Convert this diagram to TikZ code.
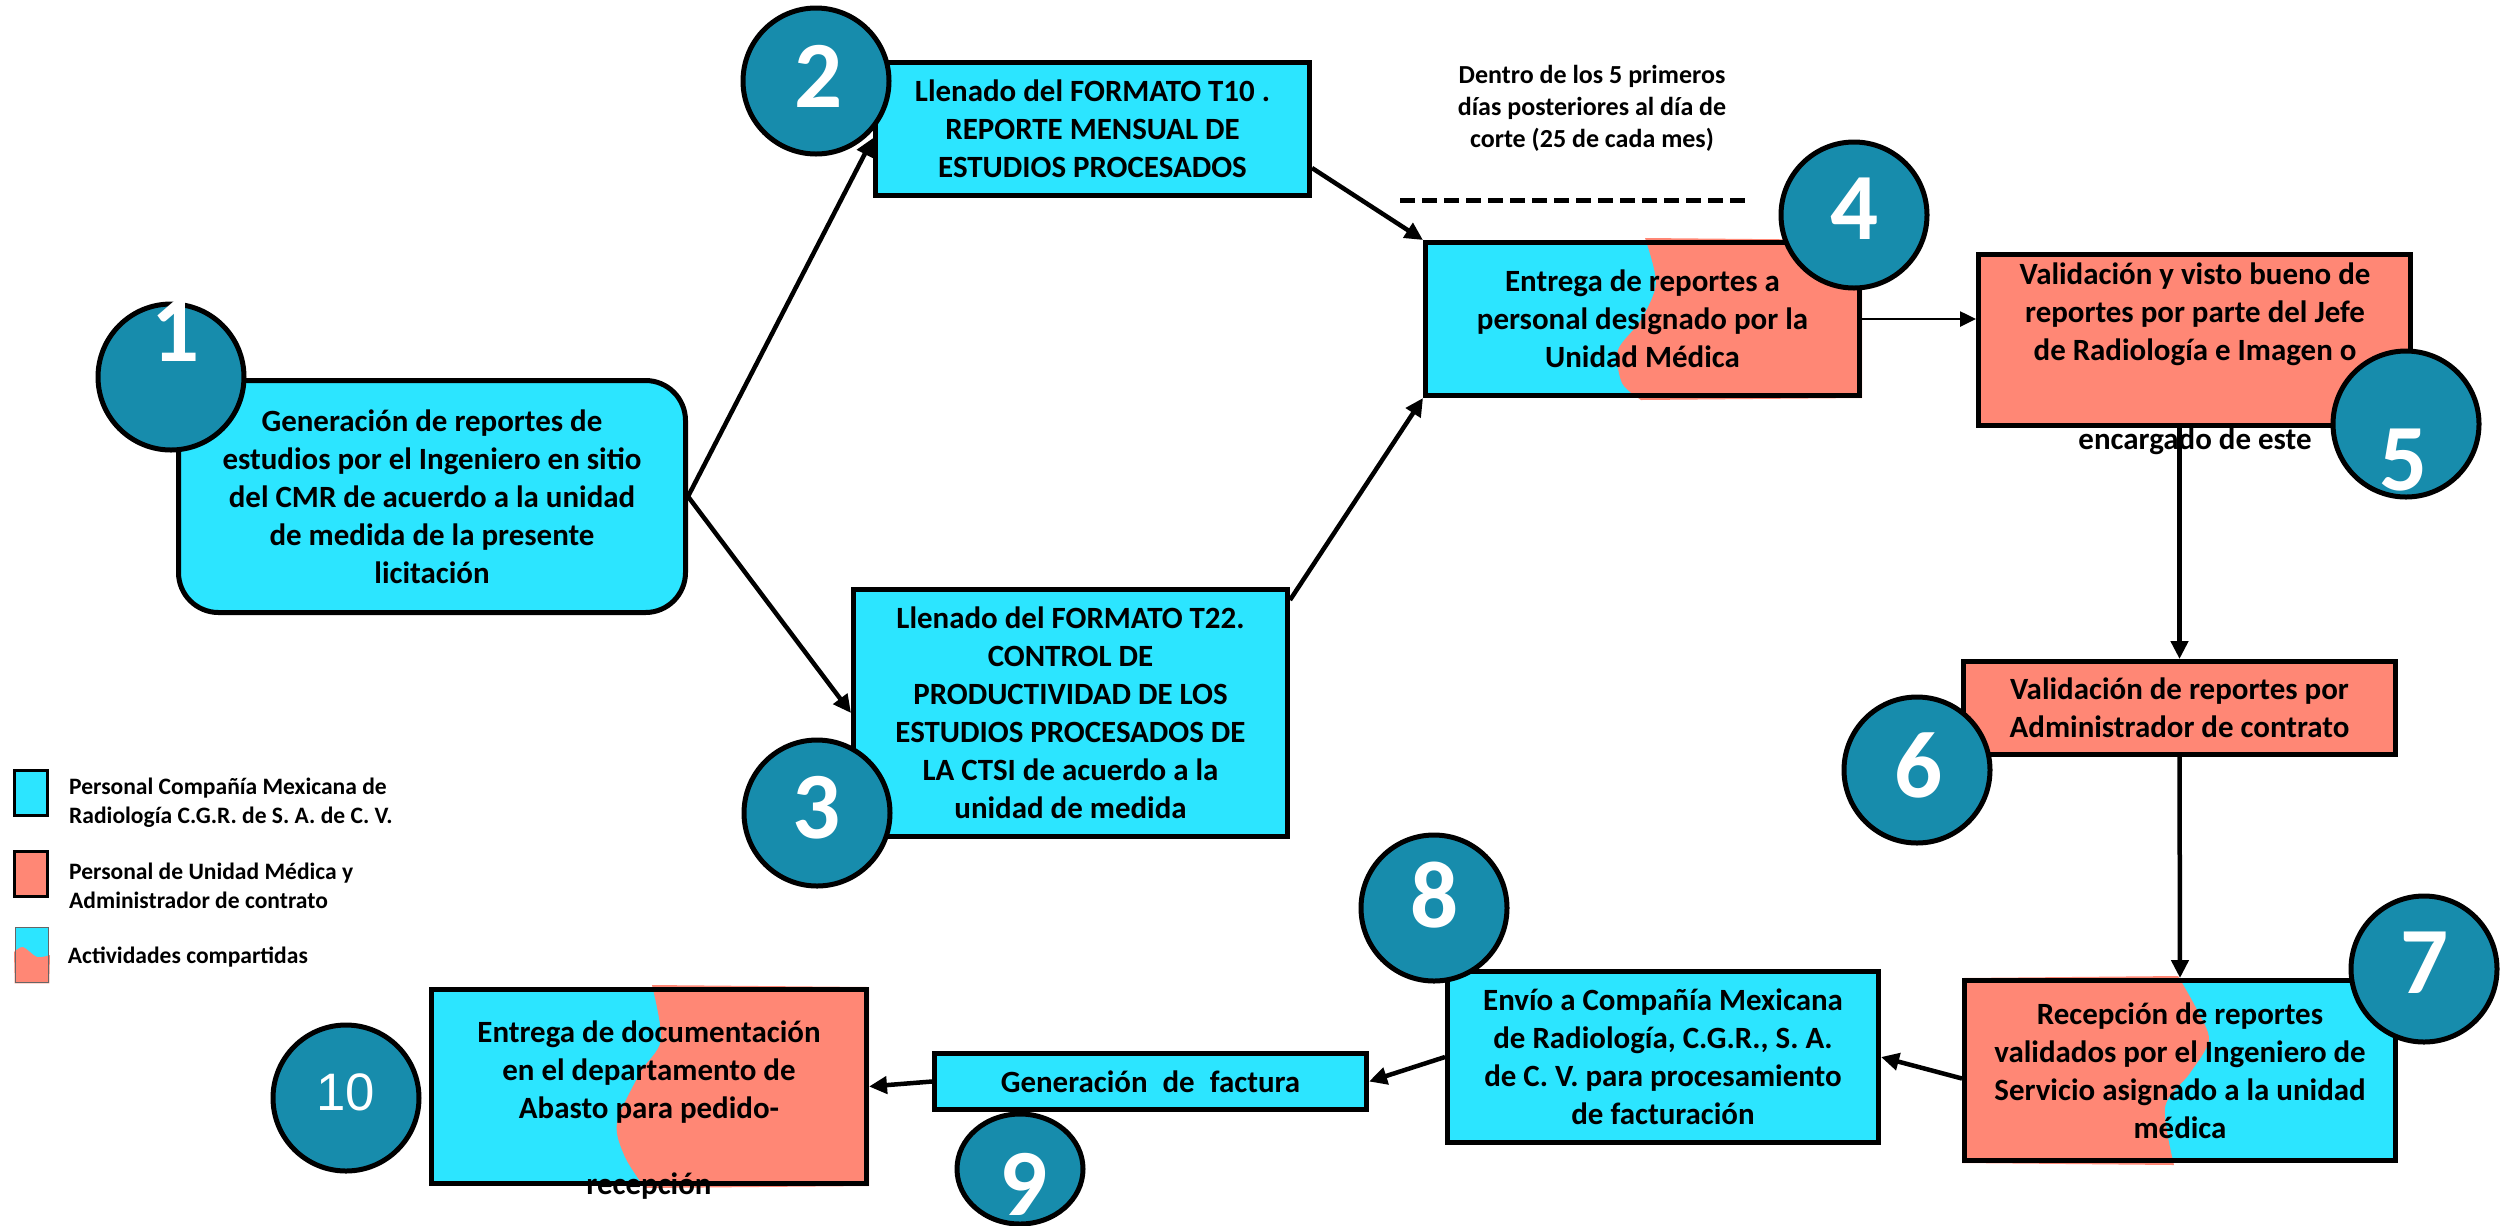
\documentclass[tikz,border=0pt]{standalone}
\usepackage{fontspec}
\setmainfont{Carlito}
\newfontfamily\tennumfont{Liberation Sans}
\usepackage{xcolor}
\usetikzlibrary{
    arrows.meta,
    positioning,
    calc,
    shapes.geometric,
    backgrounds
}
\definecolor{cmrcyan}{RGB}{44,229,255}
\definecolor{medsalmon}{RGB}{255,135,117}
\definecolor{badgeteal}{RGB}{23,140,172}
\tikzset{
    cmrbox/.style={
        draw,
        line width=0.5mm,
        fill=cmrcyan,
        align=center,
        inner sep=0pt,
        font=\fontsize{8.8}{10.8}\selectfont\bfseries
    }
}
\tikzset{
    medbox/.style={
        cmrbox,
        fill=medsalmon
    }
}
\tikzset{
    sharedbox/.style={
        cmrbox,
        fill=none
    }
}
\tikzset{
    boxtext/.style={
        align=center,
        inner sep=0pt,
        font=\fontsize{8.8}{10.8}\selectfont\bfseries
    }
}
\tikzset{
    badge/.style={
        draw,
        circle,
        line width=0.5mm,
        fill=badgeteal,
        minimum size=14.6mm,
        inner sep=0pt
    }
}
\tikzset{
    badgenum/.style={
        text=white,
        inner sep=0pt,
        font=\fontsize{27}{27}\selectfont\bfseries
    }
}
\tikzset{
    flow/.style={
        draw=black,
        line width=0.45mm,
        -{Triangle[length=1.8mm,width=1.7mm]}
    }
}
\tikzset{
    flowthin/.style={
        draw=black,
        line width=0.25mm,
        -{Triangle[length=1.6mm,width=1.5mm]}
    }
}
\tikzset{
    cutline/.style={
        draw=black,
        line width=0.5mm,
        dash pattern=on 1.5mm off 0.7mm
    }
}
\tikzset{
    legendsq/.style={
        draw,
        line width=0.3mm,
        minimum width=3.3mm,
        minimum height=4.5mm,
        inner sep=0pt
    }
}
\tikzset{
    legendtext/.style={
        align=left,
        inner sep=0pt,
        font=\fontsize{6.7}{8.2}\selectfont\bfseries
    }
}

\begin{document}
\begin{tikzpicture}[x=0.1mm, y=-0.1mm]

\useasboundingbox (0,0) rectangle (2509,1225);

% actividades
\node[cmrbox, rounded corners=4mm, minimum width=50.7mm, minimum height=23.2mm] (b1) at (432,496.5)
    {Generación de reportes de\\estudios por el Ingeniero en sitio\\del CMR de acuerdo a la unidad\\de medida de la presente\\licitación};

\node[cmrbox, minimum width=43.4mm, minimum height=13.3mm] (b2) at (1092.5,129)
    {Llenado del FORMATO T10 .\\REPORTE MENSUAL DE\\ESTUDIOS PROCESADOS};

\node[cmrbox, minimum width=43.4mm, minimum height=24.7mm] (b3) at (1070.5,713)
    {Llenado del FORMATO T22.\\CONTROL DE\\PRODUCTIVIDAD DE LOS\\ESTUDIOS PROCESADOS DE\\LA CTSI de acuerdo a la\\unidad de medida};

\node[sharedbox, minimum width=43.4mm, minimum height=15.3mm] (b4) at (1642.5,319)
    {Entrega de reportes a\\personal designado por la\\Unidad Médica};

\node[medbox, minimum width=43.2mm, minimum height=17.1mm] (b5) at (2194.5,340) {};
\node[boxtext] (b5txt) at (2195,359)
    {Validación y visto bueno de\\reportes por parte del Jefe\\de Radiología e Imagen o\\[5.1mm]encargado de este};

\node[medbox, minimum width=43.2mm, minimum height=9.3mm] (b6) at (2179.5,708)
    {Validación de reportes por\\Administrador de contrato};

\node[sharedbox, minimum width=43.1mm, minimum height=18mm] (b7) at (2180,1070.5)
    {Recepción de reportes\\validados por el Ingeniero de\\Servicio asignado a la unidad\\médica};

\node[cmrbox, minimum width=43.1mm, minimum height=17.1mm] (b8) at (1663,1057)
    {Envío a Compañía Mexicana\\de Radiología, C.G.R., S. A.\\de C. V. para procesamiento\\de facturación};

\node[cmrbox, minimum width=43.2mm, minimum height=5.6mm] (b9) at (1150.5,1081.5)
    {Generación\hspace{0.8mm} de\hspace{0.8mm} factura};

\node[sharedbox, minimum width=43.5mm, minimum height=19.4mm] (b10) at (649,1086.5) {};
\node[boxtext] (b10txt) at (649,1110)
    {Entrega de documentación\\en el departamento de\\Abasto para pedido-\\[3.8mm]recepción};

% plazo de entrega
\node[boxtext, font=\fontsize{7.4}{9.1}\selectfont\bfseries] (plazo) at (1592,108)
    {Dentro de los 5 primeros\\días posteriores al día de\\corte (25 de cada mes)};
\coordinate (corteL) at (1400,200);
\coordinate (corteR) at (1748,200);
\draw[cutline] (corteL) -- (corteR);

% leyenda
\node[legendsq, fill=cmrcyan] (leg1) at (30.5,792.5) {};
\node[legendsq, fill=medsalmon] (leg2) at (30.5,874) {};
\node[legendsq, draw=black!60, line width=0.15mm, minimum height=5.5mm] (leg3) at (32,955) {};
\node[legendtext, right=2mm of leg1, yshift=-1mm] (leg1txt)
    {Personal Compañía Mexicana de\\Radiología C.G.R. de S. A. de C. V.};
\node[legendtext, right=2mm of leg2, yshift=-1.2mm] (leg2txt)
    {Personal de Unidad Médica y\\Administrador de contrato};
\node[legendtext, right=1.8mm of leg3, yshift=-0.2mm] (leg3txt)
    {Actividades compartidas};

% rellenos compartidos
\begin{scope}[on background layer]
    \fill[cmrcyan] (b4.north west) rectangle (b4.south east);
    \fill[medsalmon] plot[smooth] coordinates
        {(1645,238) (1656,283) (1641,320) (1618,350) (1622,383) (1641,400)}
        -- (b4.south east) -- (b4.north east) -- cycle;
    \fill[cmrcyan] (b7.north west) rectangle (b7.south east);
    \fill[medsalmon] plot[smooth] coordinates
        {(2178,976) (2196,1008) (2209,1040) (2190,1073) (2165,1107) (2174,1165)}
        -- (b7.south west) -- (b7.north west) -- cycle;
    \fill[cmrcyan] (b10.north west) rectangle (b10.south east);
    \fill[medsalmon] plot[smooth] coordinates
        {(652,985) (661,1040) (640,1073) (617,1123) (625,1157) (645,1188)}
        -- (b10.south east) -- (b10.north east) -- cycle;
    \fill[cmrcyan] (leg3.north west) rectangle (leg3.south east);
    \fill[medsalmon] plot[smooth] coordinates
        {(14,952) (23,947) (37,957) (50,955)}
        -- (leg3.south east) -- (leg3.south west) -- cycle;
\end{scope}

% flujo
\draw[flow] (b1.east) -- ([yshift=-0.9mm]b2.west);
\draw[flow] (b1.east) -- (b3.west);
\draw[flow] ([yshift=-3.9mm]b2.east) -- (b4.north west);
\draw[flow] ([yshift=-1.3mm]b3.north east) -- (b4.south west);
\draw[flowthin] (b4.east) -- (b4.east -| b5.west);
\draw[flow] (b6.north |- b5.south) -- (b6.north);
\draw[flow] (b6.south) -- (b7.north);
\draw[flow] ([yshift=-0.8mm]b7.west) -- (b8.east);
\draw[flow] (b8.west) -- (b9.east);
\draw[flow] (b9.west) -- (b10.east);

% numeros
\node[badge] (c1) at (171,377) {};
\node[badgenum] (c1num) at (176,331) {1};
\node[badge] (c2) at (816,81) {};
\node[badgenum] (c2num) at (819,76) {2};
\node[badge] (c3) at (817,813) {};
\node[badgenum] (c3num) at (817,808) {3};
\node[badge] (c4) at (1854,215) {};
\node[badgenum] (c4num) at (1855,209) {4};
\node[badge] (c5) at (2406,424) {};
\node[badgenum] (c5num) at (2404,460) {5};
\node[badge] (c6) at (1917,770) {};
\node[badgenum] (c6num) at (1919,765) {6};
\node[badge] (c7) at (2424,969) {};
\node[badgenum] (c7num) at (2425,963) {7};
\node[badge] (c8) at (1434,908) {};
\node[badgenum] (c8num) at (1435,895) {8};
\node[badge, ellipse, minimum width=12.6mm, minimum height=11mm] (c9) at (1020,1169) {};
\node[badgenum] (c9num) at (1024,1184) {9};
\node[badge] (c10) at (346,1098) {};
\node[badgenum, font=\fontsize{15}{15}\selectfont\tennumfont] (c10num) at (346,1092) {10};

\end{tikzpicture}
\end{document}
